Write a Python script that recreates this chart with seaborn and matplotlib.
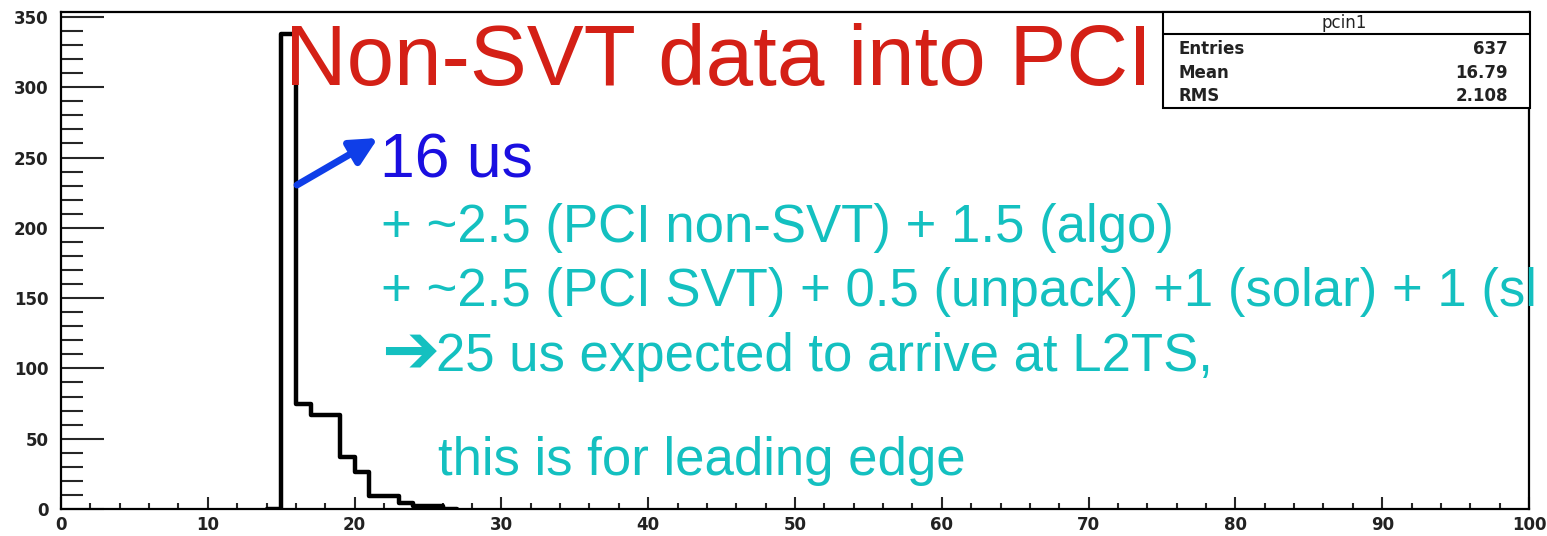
import numpy as np
import pandas as pd
import matplotlib
matplotlib.use("Agg")
import matplotlib.pyplot as plt
from matplotlib.patches import Rectangle
from matplotlib.ticker import MultipleLocator
import seaborn as sns

# === Histogram data (bin width 1 us, empty bins on both sides) ===
bin_left = [14, 15, 16, 17, 18, 19, 20, 21, 22, 23, 24, 25, 26]
counts = [0, 338, 75, 67, 67, 37, 26, 9, 9, 4, 2, 2, 0]
edges = list(range(14, 28))

hist_name = "pcin1"
stat_names = ["Entries", "Mean", "RMS"]
stat_values = ["637", "16.79", "2.108"]

title = "Non-SVT data into PCI"
peak_label = "16 us"
# second line runs off the slide edge in the original
notes = [
    "+ ~2.5 (PCI non-SVT) + 1.5 (algo)",
    "+ ~2.5 (PCI SVT) + 0.5 (unpack) +1 (solar) + 1 (sl",
    "25 us expected to arrive at L2TS,",
    "this is for leading edge",
]

sns.set_style("ticks")
plt.rcParams["font.family"] = ["Liberation Sans", "DejaVu Sans"]

W, H = 1547, 536
fig = plt.figure(figsize=(W / 100, H / 100), dpi=100)
ax = fig.add_axes([61 / W, 1 - 509 / H, (1529 - 61) / W, (509 - 12) / H])

df = pd.DataFrame({"t": [b + 0.5 for b in bin_left], "n": counts})
sns.histplot(data=df, x="t", weights="n", bins=edges, element="step",
             fill=False, color="black", linewidth=3.2, ax=ax)

ax.set_xlim(0, 100)
ax.set_ylim(0, 353.5)
ax.set_xlabel("")
ax.set_ylabel("")
for s in ax.spines.values():
    s.set_visible(True)
    s.set_linewidth(1.6)
    s.set_color("black")

ax.xaxis.set_major_locator(MultipleLocator(10))
ax.xaxis.set_minor_locator(MultipleLocator(2))
ax.yaxis.set_major_locator(MultipleLocator(50))
ax.yaxis.set_minor_locator(MultipleLocator(10))
ax.tick_params(axis="x", which="major", direction="in", length=9, width=1.5, pad=5)
ax.tick_params(axis="x", which="minor", direction="in", length=4.5, width=1.5)
ax.tick_params(axis="y", which="major", direction="in", length=31, width=1.5, pad=9)
ax.tick_params(axis="y", which="minor", direction="in", length=16, width=1.5)
for lab in ax.get_xticklabels() + ax.get_yticklabels():
    lab.set_fontsize(12)
    lab.set_fontweight("bold")
    lab.set_family("DejaVu Sans")
    lab.set_color("#222222")

def fy(y):
    return 1 - y / H

# === Stats box ===
box = Rectangle((1163 / W, fy(108)), (1530 - 1163) / W, (108 - 12) / H,
                transform=fig.transFigure, facecolor="white", edgecolor="black",
                linewidth=1.5, zorder=5)
fig.add_artist(box)
fig.add_artist(plt.Line2D([1163 / W, 1530 / W], [fy(34), fy(34)],
                          transform=fig.transFigure, color="black", lw=1.5, zorder=6))
fig.text(1344 / W, fy(28), hist_name, ha="center", va="baseline", fontsize=12,
         family="DejaVu Sans", color="#222222", zorder=7)
for i, (name, val) in enumerate(zip(stat_names, stat_values)):
    yb = [54, 78, 101][i]
    fig.text(1178 / W, fy(yb), name, ha="left", va="baseline", fontsize=12,
             fontweight="bold", family="DejaVu Sans", color="#222222", zorder=7)
    fig.text(1508 / W, fy(yb), val, ha="right", va="baseline", fontsize=12,
             fontweight="bold", family="DejaVu Sans", color="#222222", zorder=7)

# === Annotations ===
fig.text(285 / W, fy(85), title, color="#d42016", fontsize=61.5, va="baseline", ha="left")
fig.text(380 / W, fy(177), peak_label, color="#1a0fe0", fontsize=45, va="baseline", ha="left")
ax.annotate("", xy=(378, H - 138), xytext=(297, H - 185), xycoords="figure pixels",
            textcoords="figure pixels",
            arrowprops=dict(arrowstyle="-|>,head_length=0.8,head_width=0.4",
                            lw=5, color="#0f3ee8", mutation_scale=20,
                            shrinkA=0, shrinkB=0), zorder=8)
cyan = "#14c0c0"
fig.text(381 / W, fy(242), notes[0], color=cyan, fontsize=38, va="baseline", ha="left")
fig.text(381 / W, fy(306), notes[1], color=cyan, fontsize=38, va="baseline", ha="left")
fig.text(381 / W, fy(373), "\u2794", color=cyan, fontsize=50, va="baseline", ha="left",
         family="DejaVu Sans", fontweight="bold")
fig.text(436 / W, fy(371), notes[2], color=cyan, fontsize=38, va="baseline", ha="left")
fig.text(438 / W, fy(475), notes[3], color=cyan, fontsize=38, va="baseline", ha="left")

fig.savefig("out.png", dpi=100)
